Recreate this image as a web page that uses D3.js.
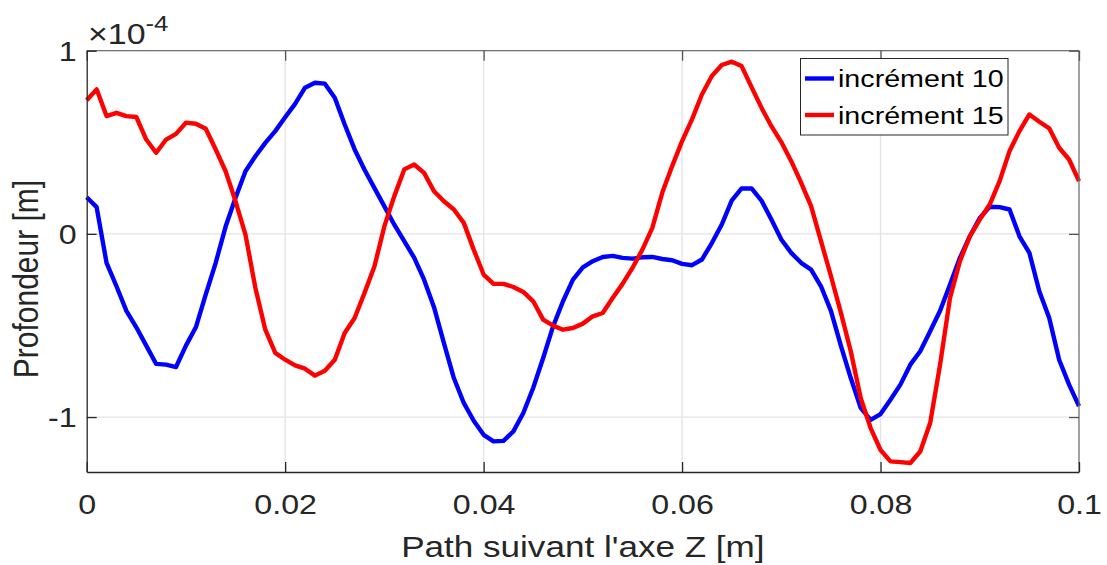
<!DOCTYPE html>
<html><head><meta charset="utf-8">
<script src="https://cdn.jsdelivr.net/npm/d3@7"></script>
<style>body{margin:0;background:#fff}svg{display:block}text{font-family:"Liberation Sans",Arial,sans-serif}</style>
</head><body><svg id="c" width="1107" height="565"></svg>
<script>
const xStart = 0, xStep = 0.001;
const inc10 = [0.20,0.146,-0.158,-0.286,-0.42,-0.51,-0.61,-0.71,-0.714,-0.727,-0.61,-0.51,-0.33,-0.158,0.04,0.197,0.342,0.424,0.497,0.561,0.637,0.71,0.798,0.825,0.82,0.743,0.597,0.461,0.35,0.25,0.15,0.05,-0.04,-0.13,-0.25,-0.40,-0.596,-0.787,-0.923,-1.02,-1.097,-1.133,-1.13,-1.078,-0.978,-0.84,-0.678,-0.505,-0.368,-0.25,-0.183,-0.149,-0.126,-0.12,-0.131,-0.135,-0.128,-0.126,-0.137,-0.144,-0.164,-0.171,-0.14,-0.05,0.051,0.182,0.248,0.248,0.182,0.078,-0.031,-0.104,-0.158,-0.195,-0.286,-0.42,-0.61,-0.787,-0.95,-1.015,-0.984,-0.905,-0.823,-0.714,-0.641,-0.532,-0.42,-0.277,-0.131,-0.013,0.087,0.148,0.146,0.133,-0.013,-0.104,-0.313,-0.459,-0.687,-0.823,-0.94];
const inc15 = [0.729,0.789,0.643,0.661,0.643,0.638,0.515,0.443,0.515,0.546,0.607,0.601,0.574,0.461,0.342,0.178,-0.004,-0.295,-0.523,-0.65,-0.687,-0.718,-0.736,-0.774,-0.747,-0.687,-0.541,-0.459,-0.322,-0.177,0.042,0.206,0.352,0.379,0.333,0.233,0.178,0.133,0.06,-0.086,-0.222,-0.273,-0.273,-0.29,-0.317,-0.368,-0.468,-0.501,-0.523,-0.514,-0.49,-0.45,-0.432,-0.35,-0.273,-0.186,-0.086,0.033,0.224,0.37,0.506,0.625,0.761,0.862,0.922,0.94,0.916,0.801,0.689,0.588,0.501,0.397,0.279,0.151,-0.04,-0.23,-0.43,-0.641,-0.896,-1.06,-1.18,-1.242,-1.246,-1.251,-1.188,-1.033,-0.714,-0.35,-0.149,-0.013,0.078,0.16,0.288,0.452,0.561,0.652,0.612,0.576,0.47,0.406,0.288];
const xTicks = [0,0.02,0.04,0.06,0.08,0.1];
const xTickLabels = ["0","0.02","0.04","0.06","0.08","0.1"];
const yTicks = [-1,0,1];
const yTickLabels = ["-1","0","1"];
const seriesNames = ["incrément 10","incrément 15"];
const seriesColors = ["#0000ff","#ff0000"];

const SX = 1.17; // horizontal text stretch
const svg = d3.select("#c");
const L=86.7, R=1079, T=50.7, B=472;
const x = d3.scaleLinear().domain([0,0.1]).range([L,R]);
const y = d3.scaleLinear().domain([-1.3,1]).range([B,T]);
const g = svg.append("g");

// grid
g.selectAll(".gx").data(xTicks.slice(1,-1)).enter().append("line")
 .attr("x1",d=>x(d)).attr("x2",d=>x(d)).attr("y1",T).attr("y2",B)
 .attr("stroke","#e3e3e3").attr("stroke-width",1.3);
g.selectAll(".gy").data(yTicks).enter().append("line")
 .attr("y1",d=>y(d)).attr("y2",d=>y(d)).attr("x1",L).attr("x2",R)
 .attr("stroke","#e3e3e3").attr("stroke-width",1.3);

// lines
const line = d3.line().x((d,i)=>x(xStart+i*xStep)).y(d=>y(d));
[inc10,inc15].forEach((s,k)=>{
  g.append("path").datum(s).attr("d",line).attr("fill","none")
   .attr("stroke",seriesColors[k]).attr("stroke-width",4.4).attr("stroke-linejoin","round");
});

// box
g.append("line").attr("x1",L).attr("x2",R).attr("y1",T).attr("y2",T).attr("stroke","#707070").attr("stroke-width",1.3);
g.append("line").attr("x1",R).attr("x2",R).attr("y1",T).attr("y2",B).attr("stroke","#707070").attr("stroke-width",1.3);

// axes
const xAxisB = d3.axisBottom(x).tickValues(xTicks).tickFormat((d,i)=>xTickLabels[i]).tickSizeInner(-10).tickSizeOuter(0).tickPadding(22);
const gxB = svg.append("g").attr("transform",`translate(0,${B})`).call(xAxisB);
const xAxisT = d3.axisTop(x).tickValues(xTicks).tickFormat("").tickSizeInner(-10).tickSizeOuter(0);
svg.append("g").attr("transform",`translate(0,${T})`).call(xAxisT).call(a=>a.select(".domain").remove()).selectAll("line").attr("stroke","#555").attr("stroke-width",1.3);
const yAxisL = d3.axisLeft(y).tickValues(yTicks).tickFormat((d,i)=>yTickLabels[i]).tickSizeInner(-10).tickSizeOuter(0).tickPadding(10);
const gyL = svg.append("g").attr("transform",`translate(${L},0)`).call(yAxisL);
const yAxisR = d3.axisRight(y).tickValues(yTicks).tickFormat("").tickSizeInner(-10).tickSizeOuter(0);
svg.append("g").attr("transform",`translate(${R},0)`).call(yAxisR).call(a=>a.select(".domain").remove()).selectAll("line").attr("stroke","#555").attr("stroke-width",1.3);
[gxB,gyL].forEach(a=>{
  a.select(".domain").attr("stroke","#262626").attr("stroke-width",1.3);
  a.selectAll(".tick line").attr("stroke","#262626").attr("stroke-width",1.3);
  a.selectAll("text").attr("fill","#262626").style("font-size","27.5px").style("font-family","'Liberation Sans',Arial,sans-serif")
   .attr("transform",`scale(${SX},1)`);
});
gyL.selectAll("text").attr("dy","0.36em").attr("x",-10/SX);

// exponent label
const ex = svg.append("text").attr("transform",`translate(88,44) scale(${SX},1)`).attr("fill","#262626").style("font-size","29px");
ex.append("tspan").text("×10");
ex.append("tspan").attr("dy",-13).style("font-size","22px").text("-4");

// axis labels
svg.append("text").attr("transform",`translate(${(L+R)/2},557) scale(${SX},1)`).attr("text-anchor","middle").attr("fill","#262626")
 .style("font-size","30px").text("Path suivant l'axe Z [m]");
svg.append("text").attr("transform",`translate(38,279) scale(${SX},1) rotate(-90)`).attr("text-anchor","middle").attr("fill","#262626")
 .style("font-size","30px").text("Profondeur [m]");

// legend
const lg = svg.append("g");
lg.append("rect").attr("x",800.5).attr("y",58.5).attr("width",207.5).attr("height",76.5)
 .attr("fill","#fff").attr("stroke","#262626").attr("stroke-width",1);
seriesNames.forEach((n,k)=>{
  const yy = 78.5 + k*36.5;
  lg.append("line").attr("x1",805).attr("x2",834).attr("y1",yy).attr("y2",yy).attr("stroke",seriesColors[k]).attr("stroke-width",4.4);
  lg.append("text").attr("transform",`translate(838,${yy}) scale(${SX},1)`).attr("dy","0.36em").attr("fill","#000").style("font-size","24.5px").text(n);
});
</script></body></html>
